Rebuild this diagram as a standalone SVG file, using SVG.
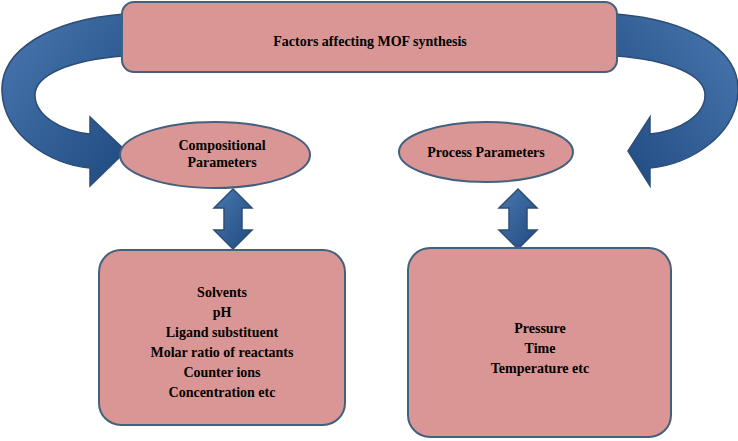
<svg xmlns="http://www.w3.org/2000/svg" width="738" height="441" viewBox="0 0 738 441">
<defs>
<linearGradient id="g" x1="0" y1="0" x2="1" y2="1"><stop offset="0" stop-color="#4a78b0"/><stop offset="1" stop-color="#1f4a80"/></linearGradient>
<style>
.n{fill:#d99694;stroke:#44607f;stroke-width:2}
.a{fill:url(#g);stroke:#2c4d74;stroke-width:1.5}
text{font-family:"Liberation Serif",serif;font-weight:bold;font-size:14px;text-anchor:middle;fill:#000}
</style>
</defs>
<g id="connectors">
<path class="a" d="M124,14 C50,20 0,50 2,92 C4,135 50,165 90,168 L90,186 L126,151 L90,117 L90,134 C60,131 35,115 35,95 C35,75 70,60 124,56 Z"/>
<path class="a" transform="translate(740,0) scale(-1,1)" d="M124,14 C50,20 0,50 2,92 C4,135 50,165 90,168 L90,186 L112,151 L90,117 L90,134 C60,131 35,115 35,95 C35,75 70,60 124,56 Z"/>
<path class="a" d="M233,189 L252,208 L242,208 L242,230 L252,230 L233,249 L214,230 L224,230 L224,208 L214,208 Z"/>
<path class="a" d="M518,189 L537,208 L527,208 L527,230 L537,230 L518,249 L499,230 L509,230 L509,208 L499,208 Z"/>
</g>
<g id="top"><rect class="n" x="122" y="2" width="495" height="70" rx="12"/><text x="370" y="46" font-size="16">Factors affecting MOF synthesis</text></g>
<g id="comp"><ellipse class="n" cx="215" cy="155" rx="95" ry="33"/><text x="222" y="150">Compositional</text><text x="222" y="167">Parameters</text></g>
<g id="proc"><ellipse class="n" cx="486" cy="152" rx="87" ry="30"/><text x="486" y="157">Process Parameters</text></g>
<g id="compbox"><rect class="n" x="99" y="250" width="246" height="175" rx="22"/>
<text x="222" y="297">Solvents</text><text x="222" y="317">pH</text><text x="222" y="337">Ligand substituent</text><text x="222" y="357">Molar ratio of reactants</text><text x="222" y="377">Counter ions</text><text x="222" y="397">Concentration etc</text></g>
<g id="procbox"><rect class="n" x="408" y="248" width="263" height="189" rx="22"/>
<text x="540" y="333">Pressure</text><text x="540" y="353">Time</text><text x="540" y="373">Temperature etc</text></g>
</svg>
